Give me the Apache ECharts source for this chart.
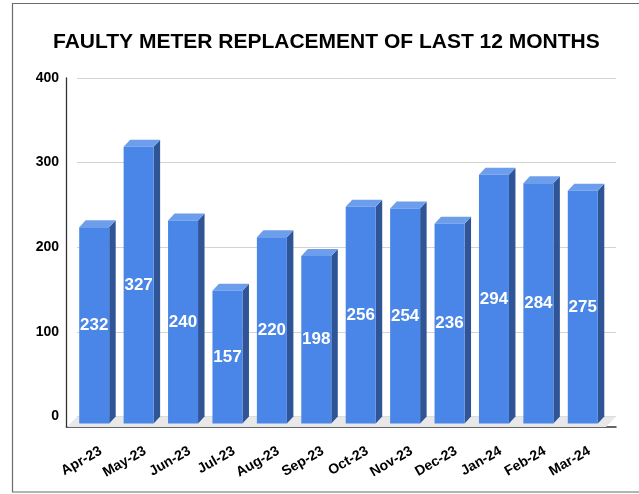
<!DOCTYPE html>
<html>
<head>
<meta charset="utf-8">
<script src="https://cdn.jsdelivr.net/npm/echarts@6/dist/echarts.min.js"></script>
<style>
  html, body { margin: 0; padding: 0; background: #fff; }
  #main { width: 639px; height: 494px; }
</style>
</head>
<body>
<div id="main"></div>
<script>
// data
const months = ['Apr-23', 'May-23', 'Jun-23', 'Jul-23', 'Aug-23', 'Sep-23',
                'Oct-23', 'Nov-23', 'Dec-23', 'Jan-24', 'Feb-24', 'Mar-24'];
const replaced = [232, 327, 240, 157, 220, 198, 256, 254, 236, 294, 284, 275];
const yTicks = [0, 100, 200, 300, 400];

const FRONT = '#4a86e8', SIDE = '#2f5597', TOP = '#6d9eeb';
const DX = 6.5, DY = 7, BW = 30;   // depth offset of the fake 3d bars

let chart = echarts.init(document.getElementById('main'));

function renderBar(params, api) {
    let c = api.coord([api.value(0), api.value(1)]);
    let z = api.coord([api.value(0), 0]);
    let fx = c[0] - 14.5;
    let top = c[1];
    let base = z[1];
    return {
        type: 'group',
        children: [
            { type: 'polygon', shape: { points: [[fx + BW, top + DY], [fx + BW + DX, top], [fx + BW + DX, base], [fx + BW, base + DY]] }, style: { fill: SIDE } },
            { type: 'polygon', shape: { points: [[fx, top + DY], [fx + DX, top], [fx + BW + DX, top], [fx + BW, top + DY]] }, style: { fill: TOP } },
            { type: 'rect', shape: { x: fx, y: top + DY, width: BW, height: base - top }, style: { fill: FRONT } },
            {
                type: 'text',
                x: c[0] + 0.5, y: (top + base) / 2 + DY,
                style: {
                    text: String(api.value(1)),
                    fill: '#fff', font: 'bold 17px "Liberation Sans", Arial, sans-serif',
                    align: 'center', verticalAlign: 'middle'
                }
            }
        ]
    };
}

let option = {
    animation: false,
    title: {
        text: 'FAULTY METER REPLACEMENT OF LAST 12 MONTHS',
        left: 53, top: 31.5, padding: 0,
        textStyle: { fontFamily: '"Liberation Sans", Arial', fontWeight: 'bold', fontSize: 21, color: '#000' }
    },
    graphic: [
        { type: 'rect', z: -10, shape: { x: 12.5, y: 3.5, width: 700, height: 488.5 }, style: { fill: 'none', stroke: '#6b6b6b', lineWidth: 1.2 } },
        { type: 'polygon', z: 1, shape: { points: [[77, 416.5], [616, 416.5], [606, 427], [67, 427]] }, style: { fill: '#e8e8e8' } }
    ],
    grid: [
        { left: 77, right: 23, top: 78, bottom: 77.5 },    // back plane
        { left: 66.5, right: 23, top: 78, bottom: 67 },   // front frame
        { left: 71.5, right: 34.5, top: 78, bottom: 77.5 }, // bars
        { left: 78.5, right: 27.5, top: 78, bottom: 77.5 }  // month labels
    ],
    xAxis: [
        { gridIndex: 0, type: 'category', data: months, show: false },
        { gridIndex: 1, type: 'category', data: months, axisLine: { lineStyle: { color: '#333', width: 1.5 } }, axisTick: { show: false }, axisLabel: { show: false } },
        {
            gridIndex: 2, type: 'category', data: months, offset: 6.5,
            axisLine: { show: false },
            axisTick: { alignWithLabel: true, length: 9, lineStyle: { color: '#333' } },
            axisLabel: { show: false }
        },
        {
            gridIndex: 3, type: 'category', data: months, offset: 10.5,
            axisLine: { show: false }, axisTick: { show: false },
            axisLabel: { rotate: 30, margin: 23, interval: 0, color: '#000', fontWeight: 'bold', fontSize: 14, fontFamily: '"Liberation Sans", Arial' }
        }
    ],
    yAxis: [
        {
            gridIndex: 0, type: 'value', min: yTicks[0], max: yTicks[yTicks.length - 1], interval: 100,
            axisLine: { show: false }, axisTick: { show: false },
            splitLine: { lineStyle: { color: '#d3d3d3' } },
            axisLabel: { margin: 18, color: '#000', fontWeight: 'bold', fontSize: 14, fontFamily: '"Liberation Sans", Arial' }
        },
        { gridIndex: 1, type: 'value', min: 0, max: 400, axisLine: { show: true, lineStyle: { color: '#333', width: 1.3 } }, axisTick: { show: false }, axisLabel: { show: false }, splitLine: { show: false } },
        { gridIndex: 2, type: 'value', min: 0, max: 400, show: false },
        { gridIndex: 3, type: 'value', min: 0, max: 400, show: false }
    ],
    series: [
        {
            type: 'custom',
            xAxisIndex: 2, yAxisIndex: 2,
            z: 5,
            renderItem: renderBar,
            data: replaced.map((v, i) => [i, v])
        }
    ]
};
chart.setOption(option);
</script>
</body>
</html>
